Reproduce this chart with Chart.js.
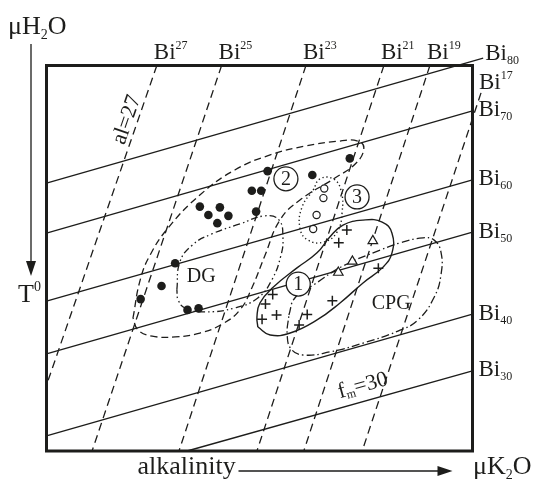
<!DOCTYPE html>
<html>
<head>
<meta charset="utf-8">
<script src="https://cdn.jsdelivr.net/npm/chart.js@4/dist/chart.umd.min.js"></script>
<style>
  html, body { margin: 0; padding: 0; background: #fff; }
  #wrap { width: 534px; height: 484px; }
</style>
</head>
<body>
<div id="wrap"><canvas id="diagram" width="534" height="484"></canvas></div>
<script>
// Diagram units: the frame spans 0..100 on both axes (alkalinity →, μH2O ↑)

// Bi-isolines (solid), subscript = Bi content
const isoNames = ['80', '70', '60', '50', '40', '30'];
const isoStart = [[0, 69.5], [0, 56.5], [0, 38.9], [0, 25.2], [0, 3.9], [33.0, 0]];
const isoEnd = [[102.5, 101.9], [100, 88.2], [100, 70.3], [100, 56.8], [100, 35.5], [100, 20.8]];

// Bi-isopleths (dashed), superscript = index
const pleNames = ['27', '25', '23', '21', '19', '17'];
const pleTop = [[25.9, 100], [41.1, 100], [60.9, 100], [79.2, 100], [90.0, 100], [102.0, 92.9]];
const pleBottom = [[0, 17.1], [10.7, 0], [31.1, 0], [49.4, 0], [60.4, 0], [74.1, 0]];

// field outlines
const field2 = [[20.3, 34.5], [22.0, 44.4], [24.3, 50.8], [28.5, 57.8], [36.0, 66.4], [44.2, 72.9],
  [52.5, 76.8], [60.7, 79.1], [68.9, 80.4], [73.1, 80.4], [74.5, 78.6], [72.7, 74.7], [67.7, 70.8],
  [59.5, 65.1], [54.8, 59.9], [51.3, 50.8], [48.2, 42.3], [45.4, 36.6], [41.2, 32.9], [36.0, 30.6],
  [30.2, 29.6], [24.8, 29.8], [21.5, 31.4]];
const fieldDG = [[30.6, 41.8], [31.3, 49.0], [34.2, 53.4], [38.8, 56.3], [45.4, 58.9], [51.3, 61.0],
  [54.6, 59.9], [55.5, 55.3], [55.0, 50.6], [52.9, 44.4], [49.6, 39.7], [44.2, 37.1], [37.2, 36.1],
  [32.5, 37.1], [30.9, 39.2]];
const field3 = [[62.6, 67.7], [64.2, 70.6], [67.3, 70.6], [69.1, 67.7], [69.4, 62.0], [68.2, 56.8],
  [65.1, 54.2], [61.4, 54.7], [59.5, 57.8], [60.0, 63.3]];
const field1 = [[49.6, 32.2], [49.4, 34.8], [50.1, 38.4], [53.2, 42.5], [58.8, 47.5], [63.5, 51.4],
  [66.5, 55.5], [69.6, 58.6], [74.3, 59.9], [78.8, 59.4], [81.1, 56.5], [81.1, 51.4], [79.0, 47.7],
  [74.3, 43.6], [68.9, 38.4], [63.5, 34.0], [57.2, 30.6], [52.5, 30.1]];
const fieldCPG = [[56.9, 35.3], [58.3, 39.7], [63.0, 43.3], [69.6, 48.0], [78.3, 52.1], [83.0, 54.0],
  [88.4, 55.3], [91.0, 54.7], [92.6, 51.6], [92.6, 45.7], [91.0, 39.9], [87.2, 34.0], [82.5, 31.1],
  [74.3, 28.0], [66.5, 25.7], [60.2, 24.9], [57.4, 26.5], [56.5, 30.1]];

// samples
const dotsFilled = [[71.2, 75.9], [62.4, 71.6], [51.9, 72.6], [48.2, 67.5], [50.4, 67.5], [36.0, 63.4],
  [38.0, 61.2], [40.7, 63.2], [42.7, 61.0], [40.1, 59.1], [49.2, 62.1], [30.2, 48.7], [27.0, 42.8],
  [22.1, 39.4], [33.1, 36.6], [35.7, 37.0]];
const dotsOpen = [[65.2, 68.1], [65.0, 65.6], [63.4, 61.2], [62.6, 57.6]];
const crosses = [[70.5, 57.3], [68.6, 54.0], [77.9, 47.4], [53.1, 40.6], [51.4, 38.1], [54.0, 35.3],
  [50.6, 34.2], [67.1, 39.0], [61.2, 35.4], [59.3, 32.7]];
const triangles = [[76.6, 54.5], [71.8, 49.2], [68.5, 46.3]];

// tags
const circleTags = ['1', '2', '3'];
const circlePos = [[59.1, 43.3], [56.2, 70.6], [72.9, 65.9]];
const regionNames = ['DG', 'CPG'];
const regionPos = [[36.3, 45.1], [80.9, 38.1]];
const alPos = [18.9, 85.9];
const fmPos = [74.3, 16.9];

// label nudges in px
const isoLabelShift = [[2, -6], [6, -2], [6, -2], [6, -2], [6, -2], [6, -2]];
const pleLabelShift = [[-3, -6.5], [-3, -6.5], [-3, -6.5], [-3, -6.5], [-3, -6.5], [-2, -4]];

const ink = '#1d1d1b';
const serif = '"Liberation Serif", "DejaVu Serif", serif';

const pts = list => list.map(([x, y]) => ({ x, y }));
const loop = list => pts(list.concat([list[0]]));

function straight(a, b, dash) {
  return { data: pts([a, b]), showLine: true, borderColor: ink, borderWidth: 1.3,
    borderDash: dash, pointRadius: 0, clip: false, tension: 0 };
}
function outline(list, dash, width) {
  return { data: loop(list), showLine: true, borderColor: ink, borderWidth: width || 1.3,
    borderDash: dash, pointRadius: 0, tension: 0.45, clip: false };
}

// text made of pieces: [text, size, dy]
function rich(ctx, x, y, parts) {
  let cx = x;
  parts.forEach(([t, size, dy]) => {
    ctx.font = size + 'px ' + serif;
    ctx.fillText(t, cx, y + (dy || 0));
    cx += ctx.measureText(t).width;
  });
  return cx - x;
}
function richWidth(ctx, parts) {
  let w = 0;
  parts.forEach(([t, size]) => { ctx.font = size + 'px ' + serif; w += ctx.measureText(t).width; });
  return w;
}
function richRotated(ctx, x, y, angle, parts) {
  ctx.save();
  ctx.translate(x, y);
  ctx.rotate(angle);
  ctx.textBaseline = 'middle';
  rich(ctx, -richWidth(ctx, parts) / 2, 0, parts);
  ctx.restore();
}

const annotations = {
  id: 'annotations',
  afterDatasetsDraw(chart) {
    const { ctx, chartArea: a, scales: { x, y } } = chart;
    const px = v => x.getPixelForValue(v);
    const py = v => y.getPixelForValue(v);
    ctx.save();
    ctx.fillStyle = ink;
    ctx.strokeStyle = ink;

    // frame
    ctx.lineWidth = 3;
    ctx.strokeRect(a.left, a.top, a.right - a.left, a.bottom - a.top);

    ctx.textBaseline = 'alphabetic';
    ctx.textAlign = 'left';

    // Bi subscript labels on the right
    isoNames.forEach((n, i) => {
      const [dx, dy] = isoLabelShift[i];
      const lx = px(isoEnd[i][0]) + dx;
      const ly = py(isoEnd[i][1]) + dy + 7.5;
      rich(ctx, lx, ly, [['Bi', 23], [n, 12, 4]]);
    });

    // Bi superscript labels along the top
    pleNames.forEach((n, i) => {
      const [dx, dy] = pleLabelShift[i];
      rich(ctx, px(pleTop[i][0]) + dx, py(pleTop[i][1]) + dy, [['Bi', 23], [n, 12, -10]]);
    });

    // circled numbers
    ctx.textAlign = 'center';
    ctx.textBaseline = 'middle';
    ctx.font = '20px ' + serif;
    circleTags.forEach((t, i) => ctx.fillText(t, px(circlePos[i][0]), py(circlePos[i][1]) + 1));

    // region names
    ctx.font = '20px ' + serif;
    regionNames.forEach((t, i) => ctx.fillText(t, px(regionPos[i][0]), py(regionPos[i][1])));
    ctx.textAlign = 'left';

    // rotated line captions
    const alAng = Math.atan2(py(pleTop[0][1]) - py(pleBottom[0][1]), px(pleTop[0][0]) - px(pleBottom[0][0]));
    richRotated(ctx, px(alPos[0]), py(alPos[1]), alAng, [['al=27', 22]]);
    const fmAng = Math.atan2(py(isoEnd[5][1]) - py(isoStart[5][1]), px(isoEnd[5][0]) - px(isoStart[5][0]));
    richRotated(ctx, px(fmPos[0]), py(fmPos[1]), fmAng, [['f', 22], ['m', 12, 5], ['=30', 22]]);

    // axis captions and arrows
    ctx.textBaseline = 'alphabetic';
    rich(ctx, 8, 34, [['\u03BCH', 26], ['2', 14, 5], ['O', 26]]);
    rich(ctx, 18, 302, [['T', 26], ['0', 14, -11]]);
    rich(ctx, a.left + 91, 474, [['alkalinity', 26]]);
    rich(ctx, a.right + 0.5, 474, [['\u03BCK', 26], ['2', 14, 5], ['O', 26]]);

    ctx.lineWidth = 1.3;
    ctx.beginPath();
    ctx.moveTo(31, 44); ctx.lineTo(31, 264);
    ctx.moveTo(a.left + 192, 471); ctx.lineTo(a.right - 32, 471);
    ctx.stroke();
    ctx.beginPath();
    ctx.moveTo(31, 276); ctx.lineTo(26, 261); ctx.lineTo(36, 261); ctx.closePath();
    ctx.fill();
    ctx.beginPath();
    ctx.moveTo(a.right - 20, 471); ctx.lineTo(a.right - 35, 466); ctx.lineTo(a.right - 35, 476); ctx.closePath();
    ctx.fill();
    ctx.restore();
  }
};

const datasets = [
  { data: pts(circlePos), pointStyle: 'circle', pointRadius: 12, backgroundColor: '#fff',
    borderColor: ink, borderWidth: 1.3, clip: false },
  { data: pts(dotsFilled), pointStyle: 'circle', pointRadius: 4.3, backgroundColor: ink, borderWidth: 0 },
  { data: pts(dotsOpen), pointStyle: 'circle', pointRadius: 3.6, backgroundColor: '#fff',
    borderColor: ink, borderWidth: 1.2 },
  { data: pts(crosses), pointStyle: 'cross', pointRadius: 5, borderColor: ink, borderWidth: 1.5 },
  { data: pts(triangles), pointStyle: 'triangle', pointRadius: 5.5, backgroundColor: '#fff',
    borderColor: ink, borderWidth: 1.2 },
  outline(field1, [], 1.4),
  outline(field3, [1.3, 2.7], 1.4),
  outline(fieldDG, [7, 3, 1.5, 3, 1.5, 3], 1.3),
  outline(fieldCPG, [8, 3, 1.5, 3], 1.3),
  outline(field2, [7, 4], 1.3)
];
isoNames.forEach((n, i) => datasets.push(straight(isoStart[i], isoEnd[i], [])));
pleNames.forEach((n, i) => datasets.push(straight(pleTop[i], pleBottom[i], [8, 5])));

new Chart(document.getElementById('diagram'), {
  type: 'scatter',
  data: { datasets },
  options: {
    responsive: false,
    animation: false,
    devicePixelRatio: 1,
    layout: { padding: { left: 46.5, top: 65.5, right: 61.5, bottom: 33 } },
    scales: {
      x: { type: 'linear', min: 0, max: 100, display: false },
      y: { type: 'linear', min: 0, max: 100, display: false }
    },
    plugins: { legend: { display: false }, tooltip: { enabled: false } }
  },
  plugins: [annotations]
});
</script>
</body>
</html>
